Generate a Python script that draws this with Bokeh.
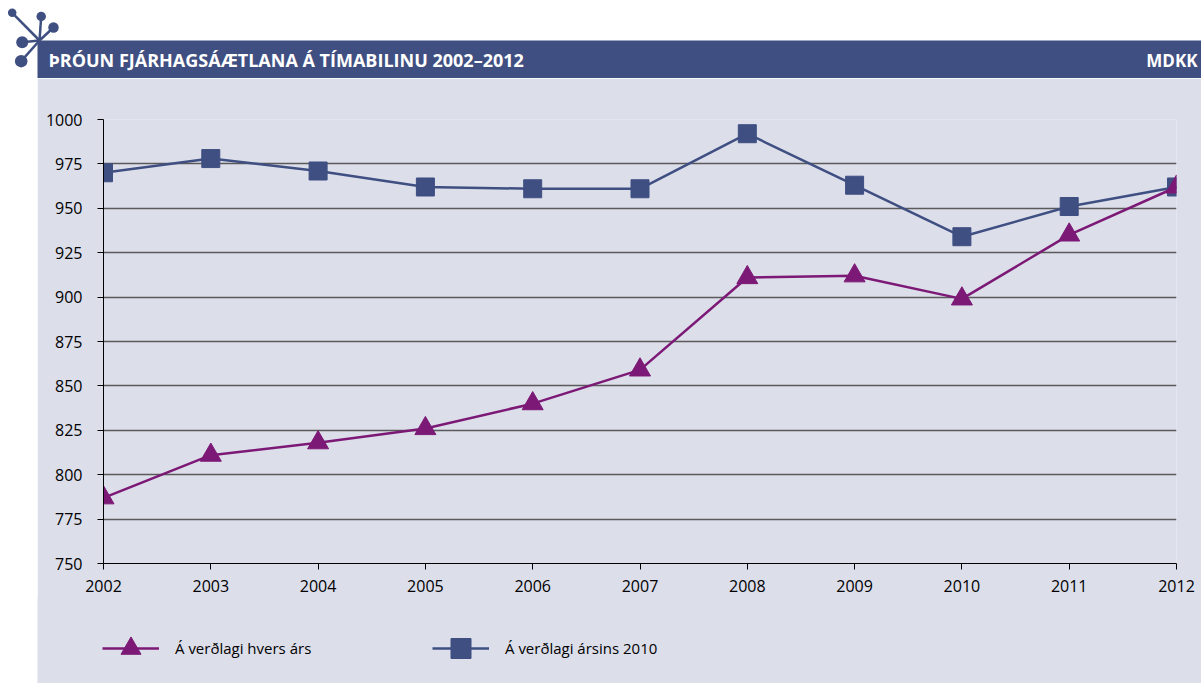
from bokeh.plotting import figure
from bokeh.layouts import column, row
from bokeh.models import (Range1d, FixedTicker, Legend, LegendItem, Label, Spacer,
                          ColumnDataSource)
from bokeh.embed import file_html
from bokeh.resources import INLINE

# ---------------- data ----------------
years = [2002, 2003, 2004, 2005, 2006, 2007, 2008, 2009, 2010, 2011, 2012]
verdlag_hvers_ars = [787, 811, 818, 826, 840, 859, 911, 912, 899, 935, 962]
verdlag_2010 = [970, 978, 971, 962, 961, 961, 992, 963, 934, 951, 962]
y_ticks = [750, 775, 800, 825, 850, 875, 900, 925, 950, 975, 1000]
series_names = ["Á verðlagi hvers árs", "Á verðlagi ársins 2010"]
title_text = "ÞRÓUN FJÁRHAGSÁÆTLANA Á TÍMABILINU 2002–2012"
source_text = "MDKK"

# ---------------- styles ----------------
DARK = "#3f4f81"
PANEL = "#dcdeea"
PURPLE = "#7c1976"
BLUE = "#3f4f82"
FONT = "Open Sans"

# ---------------- header ----------------
hdr = figure(width=1201, height=78, x_range=Range1d(0, 1201), y_range=Range1d(78, 0),
             output_backend="svg", toolbar_location=None, min_border=0,
             border_fill_color="white", background_fill_color="white")
hdr.axis.visible = False
hdr.grid.visible = False
hdr.outline_line_color = None
hdr.quad(left=[37], right=[1201], top=[40], bottom=[79], fill_color=DARK, line_color=None)

# icon (decoration)
cx, cy = 39, 40
ix = [11.7, 40.7, 53, 21.7, 20.7]
iy = [12.3, 16, 27, 41.7, 60.7]
isz = [8.5, 9.5, 10.5, 12, 12.5]
hdr.segment(x0=ix, y0=iy, x1=[cx] * 5, y1=[cy] * 5, line_color=DARK, line_width=2.5)
hdr.scatter(x=ix, y=iy, size=isz, marker="circle", fill_color=DARK, line_color=None)

hdr.add_layout(Label(x=48, y=59.5, text=title_text, text_color="white", text_font=FONT,
                     text_font_style="bold", text_font_size="18px", text_baseline="middle"))
hdr.add_layout(Label(x=1197, y=59.5, text=source_text, text_color="white", text_font=FONT,
                     text_font_style="bold", text_font_size="17px", text_baseline="middle",
                     text_align="right"))

# ---------------- main chart ----------------
p = figure(width=1164, height=522, x_range=Range1d(years[0], years[-1]),
           y_range=Range1d(y_ticks[0], y_ticks[-1]),
           output_backend="svg", toolbar_location=None,
           min_border_left=66, min_border_right=25, min_border_top=41, min_border_bottom=37,
           border_fill_color=PANEL, background_fill_color=PANEL)
p.outline_line_color = None

p.xaxis.ticker = FixedTicker(ticks=years)
p.yaxis.ticker = FixedTicker(ticks=y_ticks)
for ax in (p.xaxis, p.yaxis):
    ax.axis_line_color = "black"
    ax.axis_line_width = 1
    ax.major_tick_line_color = "black"
    ax.major_tick_out = 6
    ax.major_tick_in = 0
    ax.minor_tick_line_color = None
    ax.major_label_text_font = FONT
    ax.major_label_text_font_size = "16px"
    ax.major_label_text_color = "black"
p.yaxis.major_label_standoff = 15
p.xaxis.major_label_standoff = 10

p.xgrid.visible = False
p.ygrid.grid_line_color = "#5a5a5a"
p.ygrid.grid_line_width = 1.3

src = ColumnDataSource(dict(year=years, a=verdlag_hvers_ars, b=verdlag_2010))

p.line("year", "b", source=src, line_color=BLUE, line_width=2.5)
p.scatter("year", "b", source=src, marker="square", size=18,
          fill_color=BLUE, line_color=BLUE)
p.line("year", "a", source=src, line_color=PURPLE, line_width=2.5)
p.scatter("year", "a", source=src, marker="triangle", size=21,
          fill_color=PURPLE, line_color=PURPLE)

# ---------------- legend strip ----------------
# same series drawn in a figure whose ranges keep them out of view; only the legend shows
lg = figure(width=1164, height=85, x_range=Range1d(0, 1), y_range=Range1d(0, 1),
            output_backend="svg", toolbar_location=None, min_border=0,
            border_fill_color=PANEL, background_fill_color=PANEL)
lg.margin = (-2, 0, 0, 0)
lg.axis.visible = False
lg.grid.visible = False
lg.outline_line_color = None
la = lg.line("year", "a", source=src, line_color=PURPLE, line_width=2.5)
sa = lg.scatter("year", "a", source=src, marker="triangle", fill_color=PURPLE, line_color=PURPLE)
lb = lg.line("year", "b", source=src, line_color=BLUE, line_width=2.5)
sb = lg.scatter("year", "b", source=src, marker="square", fill_color=BLUE, line_color=BLUE)

legend = Legend(items=[LegendItem(label=series_names[0], renderers=[la, sa]),
                       LegendItem(label=series_names[1], renderers=[lb, sb])],
                orientation="horizontal", location=(65, 10),
                glyph_width=57, glyph_height=50, label_standoff=16, label_width=250,
                spacing=7, padding=0, margin=0,
                border_line_color=None, background_fill_alpha=0,
                label_text_font=FONT, label_text_font_size="15px",
                label_text_color="black")
lg.add_layout(legend)

layout = column(hdr,
                row(Spacer(width=37, height=522), p),
                row(Spacer(width=37, height=83), lg))

open("out.html", "w").write(file_html(layout, INLINE))
